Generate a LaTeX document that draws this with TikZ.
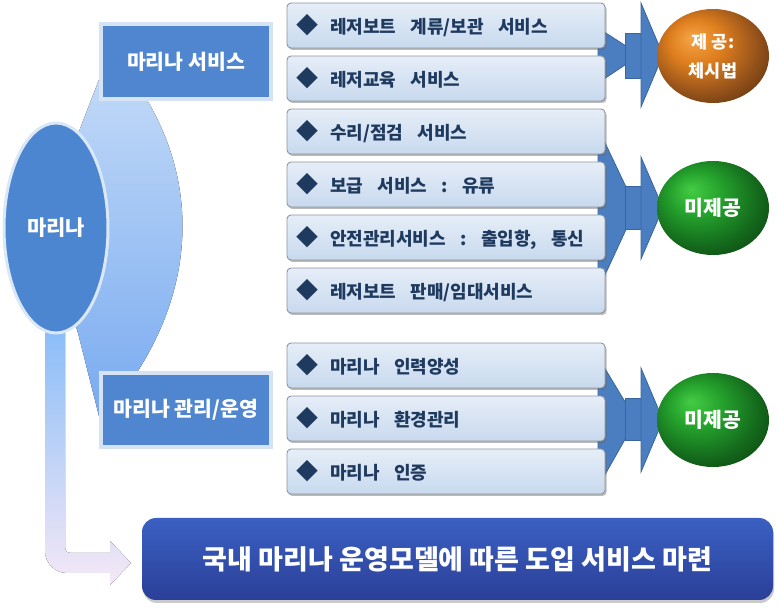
\documentclass[tikz,border=0pt]{standalone}
\usepackage{fontspec}
\setmainfont{Noto Sans CJK KR}
\usetikzlibrary{shapes.geometric,shadows}
\definecolor{boxfill}{HTML}{4F86CF}
\definecolor{boxrim}{HTML}{D5E3F4}
\definecolor{itemtop}{HTML}{E6EEF8}
\definecolor{itembot}{HTML}{C8D9EE}
\definecolor{itemrim}{HTML}{8E959E}
\definecolor{itemtext}{HTML}{1F3A5F}
\definecolor{chev}{HTML}{4A7EC0}
\definecolor{chevdark}{HTML}{3A659E}
\definecolor{cresTop}{HTML}{C9DEF8}
\definecolor{cresBot}{HTML}{78AAF0}
\definecolor{ellfill}{HTML}{4C86D0}
\definecolor{ellrim}{HTML}{D9E7F6}
\definecolor{arrTop}{HTML}{86BCF8}
\definecolor{arrBot}{HTML}{F5E8F6}
\definecolor{btop}{HTML}{3B60C2}
\definecolor{bbot}{HTML}{2A3F98}
\definecolor{oa}{HTML}{F6A446}
\definecolor{ob}{HTML}{DE7E1E}
\definecolor{oc}{HTML}{95521A}
\definecolor{od}{HTML}{4E2A0A}
\definecolor{ga}{HTML}{44CC44}
\definecolor{gb}{HTML}{24A02C}
\definecolor{gc}{HTML}{146A1C}
\definecolor{gd}{HTML}{0A3A0E}
\pgfdeclareradialshading{orangeball}{\pgfqpoint{-10bp}{10bp}}{color(0bp)=(oa); color(12bp)=(ob); color(25bp)=(oc); color(38bp)=(od); color(50bp)=(od)}
\pgfdeclareradialshading{greenball}{\pgfqpoint{-10bp}{10bp}}{color(0bp)=(ga); color(12bp)=(gb); color(25bp)=(gc); color(38bp)=(gd); color(50bp)=(gd)}
\newcommand\wg{\hspace{0.8em}}
\newcommand\bul{\makebox[34pt][l]{\fontsize{22}{22}\selectfont ◆}}
\begin{document}
\begin{tikzpicture}[x=1pt,y=-1pt,
  catbox/.style={rectangle, fill=boxfill, draw=boxrim, line width=4pt, text=white,
    font=\bfseries\fontsize{20.5}{24}\selectfont, minimum width=170pt, minimum height=75pt, inner sep=0pt},
  item/.style={rectangle, rounded corners=4pt, draw=itemrim, line width=0.9pt,
    top color=itemtop, bottom color=itembot, text=itemtext,
    font=\bfseries\fontsize{18}{22}\selectfont, minimum height=45pt, text width=300pt,
    inner xsep=9pt, inner ysep=0pt, align=left,
    drop shadow={shadow xshift=1.5pt, shadow yshift=-2pt, opacity=0.45, fill=black!60}},
  chevshape/.style={fill=chev, draw=chevdark, line width=0.8pt, line join=miter},
  ball/.style={ellipse, minimum width=112pt, minimum height=94pt, inner sep=0pt, text=white, align=center},
]
\useasboundingbox (0,0) rectangle (780,609);

% crescent behind ellipse
\fill[top color=cresTop, bottom color=cresBot]
  (100,420) .. controls (210,300) and (210,150) .. (100,40)
  -- (100,77) -- (68,160) -- (68,300) -- (78,333) -- cycle;

% light arrow from ellipse to goal
\fill[top color=arrTop, bottom color=arrBot]
  (45,320) -- (45,551) .. controls (45,563) and (55,573) .. (67,573)
  -- (110,573) -- (110,585) -- (131,563) -- (110,541) -- (110,553)
  -- (70,553) .. controls (67,553) and (65,551) .. (65,548) -- (65,320) -- cycle;

% central ellipse
\node (marina) [ellipse, minimum width=104pt, minimum height=210pt, fill=ellfill, draw=ellrim,
  line width=3pt, text=white, font=\bfseries\fontsize{21}{24}\selectfont] at (56,228) {마리나};

% category boxes
\node (svc) [catbox] at (186,62) {마리나 서비스};
\node (mgmt) [catbox, minimum height=74pt] at (186,410) {마리나 관리/운영};

% chevron triangles (behind item boxes)
\fill[chevshape] (598,28) -- (640,55) -- (598,83) -- cycle;
\fill[chevshape] (598,128) -- (636,208) -- (598,290) -- cycle;
\fill[chevshape] (598,357) -- (636,420) -- (598,487) -- cycle;

% item boxes
\node (i1) [item] at (446,25.5) {\bul 레저보트\wg 계류/보관\wg 서비스};
\node (i2) [item] at (446,78.5) {\bul 레저교육\wg 서비스};
\node (i3) [item] at (446,131.5) {\bul 수리/점검\wg 서비스};
\node (i4) [item] at (446,184.5) {\bul 보급\wg 서비스\wg :\wg 유류};
\node (i5) [item] at (446,237.5) {\bul 안전관리서비스\wg :\wg 출입항,\wg 통신};
\node (i6) [item] at (446,290.5) {\bul 레저보트\wg 판매/임대서비스};
\node (i7) [item] at (446,365.5) {\bul 마리나\wg 인력양성};
\node (i8) [item] at (446,418.5) {\bul 마리나\wg 환경관리};
\node (i9) [item] at (446,471.5) {\bul 마리나\wg 인증};

% shafts and heads
\filldraw[chevshape] (625,33) rectangle (643,78);
\filldraw[chevshape] (641,3) -- (663,55) -- (641,107) -- cycle;
\filldraw[chevshape] (625,186) rectangle (643,229);
\filldraw[chevshape] (641,157) -- (663,208) -- (641,259) -- cycle;
\filldraw[chevshape] (625,398) rectangle (643,440);
\filldraw[chevshape] (641,368) -- (663,420) -- (641,472) -- cycle;

% result balls
\node (r1) [ball, shade, shading=orangeball, font=\bfseries\fontsize{17.5}{29}\selectfont] at (713,56) {제 공:\\체시법};
\node (r2) [ball, shade, shading=greenball, font=\bfseries\fontsize{20.5}{24}\selectfont] at (713,208) {미제공};
\node (r3) [ball, shade, shading=greenball, font=\bfseries\fontsize{20.5}{24}\selectfont] at (713,420) {미제공};

% goal box
\node (goal) [rectangle, rounded corners=14pt, minimum width=631pt, minimum height=82pt,
  top color=btop, bottom color=bbot, text=white, font=\bfseries\fontsize{27}{30}\selectfont,
  drop shadow={shadow xshift=1pt, shadow yshift=-3pt, opacity=0.35, fill=black!60}]
  at (457.5,559) {국내 마리나 운영모델에 따른 도입 서비스 마련};
\end{tikzpicture}
\end{document}
